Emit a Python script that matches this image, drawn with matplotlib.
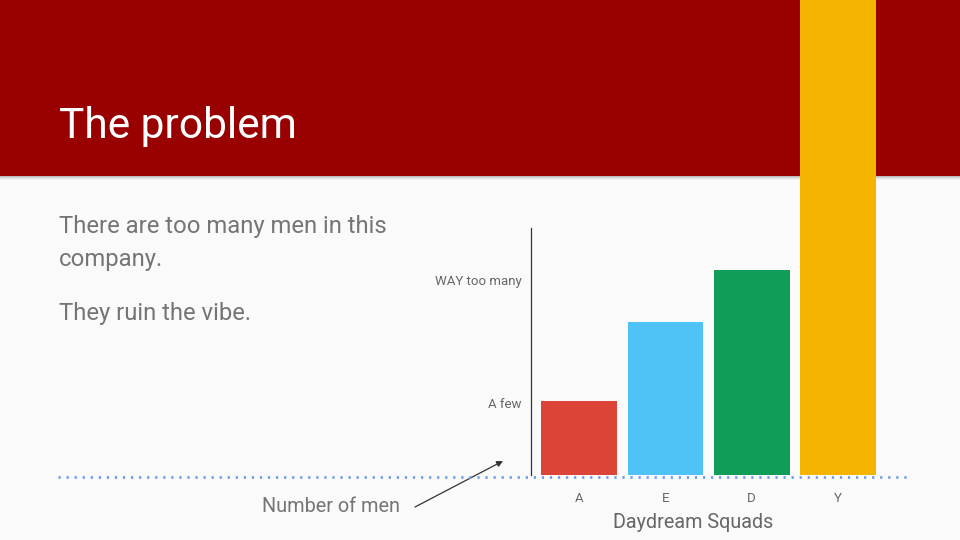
import matplotlib
matplotlib.use('Agg')

import matplotlib.pyplot as plt
from matplotlib.patches import Rectangle
from matplotlib.lines import Line2D

# data
squads = ['A', 'E', 'D', 'Y']
men = [30, 62, 83, 200]
bar_colors = ['#db4437', '#4fc3f7', '#0f9d58', '#f4b400']
level_ticks = [29, 79]
level_labels = ['A few', 'WAY too many']

W, H = 960, 540
plt.rcParams['font.family'] = ['Roboto', 'DejaVu Sans']

fig = plt.figure(figsize=(9.6, 5.4), dpi=100)
fig.patch.set_facecolor('#fafafa')


def fx(x):
    return x / W


def fy(y):
    return 1 - y / H


# red header with a soft shadow underneath
for i, a in enumerate([0.25, 0.15, 0.08, 0.04]):
    fig.patches.append(Rectangle((0, fy(177 + i)), 1, 1 / H, transform=fig.transFigure,
                                 facecolor='#000000', alpha=a, edgecolor='none', zorder=-6))
fig.patches.append(Rectangle((0, fy(176)), 1, 176 / H, transform=fig.transFigure,
                             facecolor='#990000', edgecolor='none', zorder=-5))

fig.text(fx(59), fy(138), 'The problem', color='white', fontsize=30.6, va='baseline')

body = '#757575'
fig.text(fx(59), fy(233), 'There are too many men in this', color=body, fontsize=17.2, va='baseline')
fig.text(fx(59), fy(266), 'company.', color=body, fontsize=17.2, va='baseline')
fig.text(fx(59), fy(320), 'They ruin the vibe.', color=body, fontsize=17.2, va='baseline')

# chart
ax = fig.add_axes([fx(531), fy(475), (855 - 531) / W, 247 / H])
ax.set_facecolor('none')
ax.bar(range(len(squads)), men, width=0.88, color=bar_colors, clip_on=False, zorder=3)
ax.set_xlim(-0.56, 3.2)
ax.set_ylim(0, 100)

for s in ['top', 'right', 'bottom']:
    ax.spines[s].set_visible(False)
ax.spines['left'].set_color('#333333')
ax.spines['left'].set_linewidth(0.9)

ax.set_xticks(range(len(squads)))
ax.set_xticklabels(squads)
ax.set_yticks(level_ticks)
ax.set_yticklabels(level_labels)
ax.tick_params(axis='x', length=0, pad=12, labelsize=9.5, labelcolor='#666666')
ax.tick_params(axis='y', length=0, pad=7, labelsize=9.5, labelcolor='#666666')

fig.text(fx(693), fy(528), 'Daydream Squads', color='#666666', fontsize=14.2,
         ha='center', va='baseline')

# dotted baseline
fig.lines.append(Line2D([fx(58), fx(908)], [fy(477), fy(477)], transform=fig.transFigure,
                        color='#6d9eeb', lw=2, dashes=(0.8, 2.1), zorder=5))

# annotation
fig.text(fx(262), fy(512), 'Number of men', color=body, fontsize=14.3, va='baseline')
ax.annotate('', xy=(503, H - 461), xytext=(415, H - 507),
            xycoords='figure pixels', textcoords='figure pixels',
            arrowprops=dict(arrowstyle='-|>', color='#333333', lw=0.9,
                            mutation_scale=9, shrinkA=0, shrinkB=0),
            annotation_clip=False)

fig.savefig('out.png', dpi=100, facecolor=fig.get_facecolor())
